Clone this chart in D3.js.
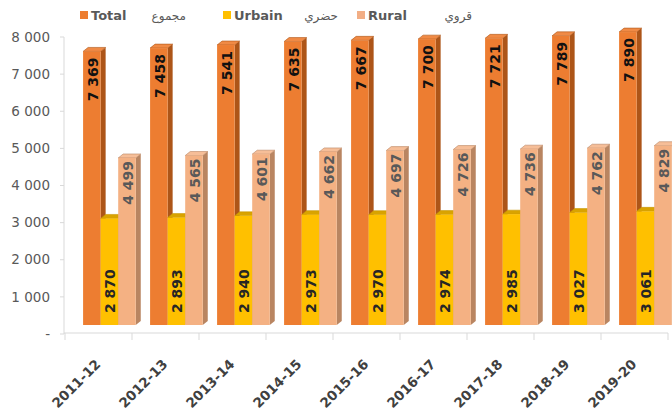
<!DOCTYPE html>
<html>
<head>
<meta charset="utf-8">
<style>
    body { margin: 0; background: #fff; }
    svg { display: block; font-family: 'DejaVu Sans', sans-serif; }
</style>
</head>
<body>
<svg width="672" height="412"></svg>
<script src="https://d3js.org/d3.v7.min.js"></script>
<script>
    // data
    let years = ["2011-12", "2012-13", "2013-14", "2014-15", "2015-16", "2016-17", "2017-18", "2018-19", "2019-20"]
    let total = [7369, 7458, 7541, 7635, 7667, 7700, 7721, 7789, 7890]
    let urbain = [2870, 2893, 2940, 2973, 2970, 2974, 2985, 3027, 3061]
    let rural = [4499, 4565, 4601, 4662, 4697, 4726, 4736, 4762, 4829]
    let yTicks = [0, 1000, 2000, 3000, 4000, 5000, 6000, 7000, 8000]
    let seriesNames = ["Total", "Urbain", "Rural"]
    let seriesArabic = ["مجموع", "حضري", "قروي"]

    let series = [
        { name: seriesNames[0], ar: seriesArabic[0], values: total, front: "#ED7D31", top: "#F08A45", side: "#AD5518", label: "#111", legend: "#ED7D31" },
        { name: seriesNames[1], ar: seriesArabic[1], values: urbain, front: "#FFC000", top: "#D9A300", side: "#C79600", label: "#262626", legend: "#FFC000" },
        { name: seriesNames[2], ar: seriesArabic[2], values: rural, front: "#F4B183", top: "#F6BE98", side: "#B98561", label: "#595959", legend: "#F2AE85" }
    ]

    let svg = d3.select("svg")

    let x = d3.scaleBand()
        .domain(years)
        .range([65, 668])
        .padding(0)

    let y = d3.scaleLinear()
        .domain([0, 8000])
        .range([334, 37])

    let fmt = v => v === 0 ? "-" : d3.format(",")(v).replace(/,/g, " ")

    // 3d look
    let lift = 9, dx = 5, dy = 4
    let bw = x.bandwidth()
    let barW = bw * 0.262
    let off = bw * 0.27

    // y axis
    svg.append("line")
        .attr("x1", 64).attr("x2", 64)
        .attr("y1", y(8000)).attr("y2", y(0))
        .style("stroke", "#d9d9d9")

    svg.selectAll(".ytick")
        .data(yTicks)
        .join("line")
        .attr("x1", 60).attr("x2", 64)
        .attr("y1", d => y(d)).attr("y2", d => y(d))
        .style("stroke", "#d9d9d9")

    svg.selectAll(".ylab")
        .data(yTicks)
        .join("text")
        .attr("x", 50)
        .attr("y", d => y(d))
        .attr("dy", "0.35em")
        .attr("text-anchor", "end")
        .style("font-size", "13.5px")
        .style("fill", "#595959")
        .text(fmt)

    // x axis
    svg.append("line")
        .attr("x1", 64).attr("x2", 668)
        .attr("y1", 333).attr("y2", 333)
        .style("stroke", "#d9d9d9")

    svg.selectAll(".xtick")
        .data(years.concat(["end"]))
        .join("line")
        .attr("x1", (d, i) => 65 + i * bw).attr("x2", (d, i) => 65 + i * bw)
        .attr("y1", 333).attr("y2", 340)
        .style("stroke", "#d9d9d9")

    svg.selectAll(".xlab")
        .data(years)
        .join("text")
        .attr("transform", d => "translate(" + (x(d) + bw / 2 + 3) + ",365) rotate(-45)")
        .attr("text-anchor", "end")
        .style("font-size", "13.5px")
        .style("font-weight", "bold")
        .style("fill", "#404040")
        .text(d => d)

    // bars
    years.forEach((yr, j) => {
        series.forEach((s, i) => {
            let v = s.values[j]
            let x0 = x(yr) + off + i * barW
            let top = y(v) - lift
            let base = y(0) - lift
            let g = svg.append("g")

            g.append("path")
                .attr("d", d3.line()([[x0 + barW, top], [x0 + barW + dx, top - dy], [x0 + barW + dx, base - dy], [x0 + barW, base]]) + "Z")
                .style("fill", s.side)
            g.append("path")
                .attr("d", d3.line()([[x0, top], [x0 + dx, top - dy], [x0 + barW + dx, top - dy], [x0 + barW, top]]) + "Z")
                .style("fill", s.top)
                .style("stroke", s.side)
                .style("stroke-width", 0.6)
            g.append("rect")
                .attr("x", x0)
                .attr("y", top)
                .attr("width", barW)
                .attr("height", base - top)
                .style("fill", s.front)
        })
    })

    // labels inside bars
    years.forEach((yr, j) => {
        series.forEach((s, i) => {
            let v = s.values[j]
            let cx = x(yr) + off + i * barW + barW / 2 + 1
            let top = y(v) - lift
            let base = y(0) - lift
            let ly, anchor
            if (i === 0) { ly = top + 6; anchor = "end" }
            else if (i === 1) { ly = base - 12; anchor = "start" }
            else { ly = top + 3; anchor = "end" }
            svg.append("text")
                .attr("transform", "translate(" + cx + "," + ly + ") rotate(-90)")
                .attr("text-anchor", anchor)
                .attr("dy", "0.36em")
                .style("font-size", "14px")
                .style("font-weight", "bold")
                .style("fill", s.label)
                .text(fmt(v))
        })
    })

    // legend
    let legX = [80, 223, 357]
    let arX = [186, 338, 472]
    series.forEach((s, i) => {
        svg.append("rect")
            .attr("x", legX[i]).attr("y", 11)
            .attr("width", 8).attr("height", 8)
            .style("fill", s.legend)
        svg.append("text")
            .attr("x", legX[i] + 11).attr("y", 20)
            .style("font-size", "13px")
            .style("font-weight", "bold")
            .style("fill", "#595959")
            .text(s.name)
        svg.append("text")
            .attr("x", arX[i]).attr("y", 20)
            .attr("text-anchor", "end")
            .style("font-size", "12px")
            .style("fill", "#595959")
            .text(s.ar)
    })
</script>
</body>
</html>
